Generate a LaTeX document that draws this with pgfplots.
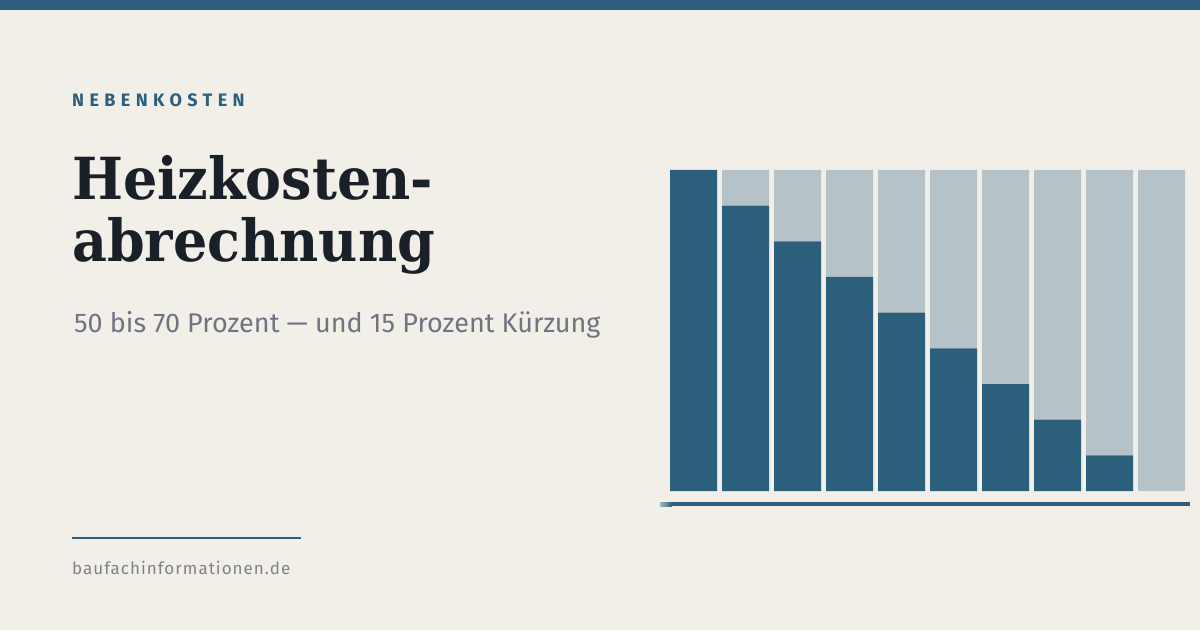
\documentclass[border=0pt]{standalone}
\usepackage{pgfplots}
\pgfplotsset{compat=1.18}
\usepackage{fontspec}
\setmainfont{Fira Sans}
\newfontfamily\titlefont{DejaVu Serif}
\newfontfamily\kickerfont{Fira Sans}[LetterSpace=30]
\newfontfamily\urlfont{Fira Sans}[LetterSpace=6]

\definecolor{bg}{HTML}{F2EFE9}
\definecolor{navy}{HTML}{2B5F7C}
\definecolor{pale}{HTML}{B5C2C7}
\definecolor{ink}{HTML}{1B2028}
\definecolor{grey}{HTML}{6E7480}
\definecolor{urlgrey}{HTML}{7D828C}

% share of each bar in the dark colour (rest is pale)
\pgfplotstableread{
x dark rest
0 100.0 0.0
1 88.9 11.1
2 77.8 22.2
3 66.7 33.3
4 55.6 44.4
5 44.4 55.6
6 33.3 66.7
7 22.2 77.8
8 11.1 88.9
9 0.0 100.0
}\shares

\begin{document}
\begin{tikzpicture}
\useasboundingbox (0,0) rectangle (1200pt,630pt);
\fill[bg] (0,0) rectangle (1200pt,630pt);
\fill[navy] (0,620pt) rectangle (1200pt,630pt);

\node[anchor=base west, inner sep=0, text=navy] at (72pt,523pt)
  {\kickerfont\bfseries\fontsize{18pt}{20pt}\selectfont NEBENKOSTEN};
\node[anchor=base west, inner sep=0, text=ink] at (72pt,430pt)
  {\scalebox{0.93}[1]{\titlefont\bfseries\fontsize{58pt}{62pt}\selectfont Heizkosten-}};
\node[anchor=base west, inner sep=0, text=ink] at (72pt,368pt)
  {\scalebox{0.93}[1]{\titlefont\bfseries\fontsize{58pt}{62pt}\selectfont abrechnung}};
\node[anchor=base west, inner sep=0, text=grey] at (74pt,297pt)
  {\fontsize{27pt}{30pt}\selectfont 50 bis 70 Prozent — und 15 Prozent Kürzung};
\fill[navy] (72pt,91pt) rectangle (301pt,93pt);
\node[anchor=base west, inner sep=0, text=urlgrey] at (72pt,56pt)
  {\urlfont\fontsize{17pt}{20pt}\selectfont baufachinformationen.de};

\begin{axis}[
    at={(667.5pt,139pt)}, anchor=south west,
    scale only axis, width=520pt, height=321pt,
    xmin=-0.5, xmax=9.5, ymin=0, ymax=100,
    hide axis, clip=false,
    ybar stacked, bar width=47pt,
]
\addplot[fill=navy, draw=none] table[x=x, y=dark] {\shares};
\addplot[fill=pale, draw=none] table[x=x, y=rest] {\shares};
\end{axis}

\shade[left color=navy!40!bg, right color=navy] (660pt,124pt) rectangle (672pt,128pt);
\fill[navy] (672pt,124pt) rectangle (1190pt,128pt);
\end{tikzpicture}
\end{document}
